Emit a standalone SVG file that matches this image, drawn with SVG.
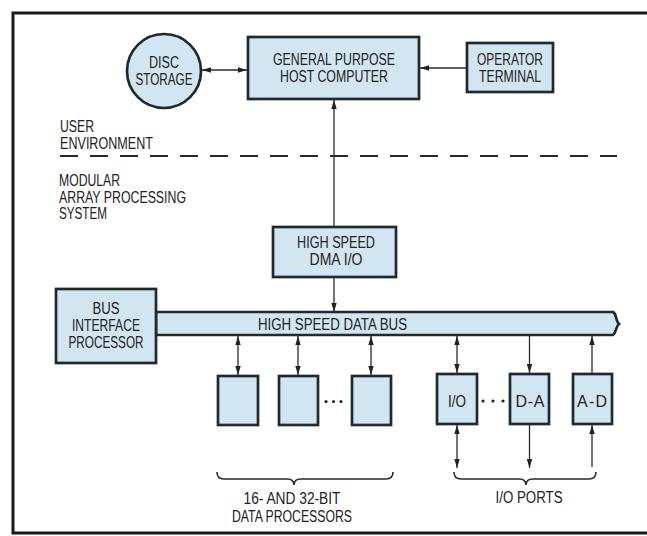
<svg xmlns="http://www.w3.org/2000/svg" width="647" height="536" viewBox="0 0 647 536">
<defs>
<style>
text{font-family:"Liberation Sans Narrow","Liberation Sans",Arial,sans-serif;font-size:16px;fill:#222;}
.c{text-anchor:middle;}
.box{fill:#d2e6f1;stroke:#1e2a2e;stroke-width:2.7;}
.ln{stroke:#2a2a2a;stroke-width:1.3;fill:none;}
.fr{stroke:#1a1a1a;stroke-width:3;fill:none;}
.br{stroke:#2a2a2a;stroke-width:1.6;fill:none;}
</style>
<marker id="ah" viewBox="0 0 10 6" refX="10" refY="3" markerWidth="9" markerHeight="6" markerUnits="userSpaceOnUse" orient="auto-start-reverse">
<path d="M0,0 L10,3 L0,6 z" fill="#222"/>
</marker>
</defs>
<rect width="647" height="536" fill="#fff"/>
<g id="frame">
<path class="fr" d="M647,13 H13 V533 H647"/>
</g>
<g id="labels">
<text x="60" y="132" textLength="34" lengthAdjust="spacingAndGlyphs">USER</text>
<text x="60" y="149" textLength="93" lengthAdjust="spacingAndGlyphs">ENVIRONMENT</text>
<line x1="60" y1="156" x2="617" y2="156" stroke="#2a2a2a" stroke-width="1.8" stroke-dasharray="18 12"/>
<text x="59" y="186" textLength="61" lengthAdjust="spacingAndGlyphs">MODULAR</text>
<text x="59" y="203" textLength="127" lengthAdjust="spacingAndGlyphs">ARRAY PROCESSING</text>
<text x="59" y="219" textLength="48" lengthAdjust="spacingAndGlyphs">SYSTEM</text>
</g>
<g id="connectors">
<line class="ln" x1="202" y1="70" x2="247" y2="70" marker-start="url(#ah)" marker-end="url(#ah)"/>
<line class="ln" x1="467" y1="68" x2="420" y2="68" marker-end="url(#ah)"/>
<line class="ln" x1="334" y1="227" x2="334" y2="100" marker-end="url(#ah)"/>
<line class="ln" x1="334" y1="278" x2="334" y2="312" marker-end="url(#ah)"/>
<line class="ln" x1="238" y1="336" x2="238" y2="375" marker-start="url(#ah)" marker-end="url(#ah)"/>
<line class="ln" x1="298" y1="336" x2="298" y2="375" marker-start="url(#ah)" marker-end="url(#ah)"/>
<line class="ln" x1="371" y1="336" x2="371" y2="375" marker-start="url(#ah)" marker-end="url(#ah)"/>
<line class="ln" x1="457" y1="336" x2="457" y2="373" marker-start="url(#ah)" marker-end="url(#ah)"/>
<line class="ln" x1="457" y1="425" x2="457" y2="468" marker-start="url(#ah)" marker-end="url(#ah)"/>
<line class="ln" x1="529.5" y1="336" x2="529.5" y2="373" marker-end="url(#ah)"/>
<line class="ln" x1="529.5" y1="425" x2="529.5" y2="468" marker-end="url(#ah)"/>
<line class="ln" x1="592" y1="373" x2="592" y2="336" marker-end="url(#ah)"/>
<line class="ln" x1="592" y1="467" x2="592" y2="425" marker-end="url(#ah)"/>
</g>
<g id="disc">
<circle class="box" cx="164" cy="71" r="37"/>
<text class="c" x="164" y="68" textLength="30" lengthAdjust="spacingAndGlyphs">DISC</text>
<text class="c" x="164" y="85" textLength="57" lengthAdjust="spacingAndGlyphs">STORAGE</text>
</g>
<g id="host">
<rect class="box" x="248" y="37" width="171" height="62"/>
<text class="c" x="334" y="65" textLength="122" lengthAdjust="spacingAndGlyphs">GENERAL PURPOSE</text>
<text class="c" x="334" y="82" textLength="108" lengthAdjust="spacingAndGlyphs">HOST COMPUTER</text>
</g>
<g id="terminal">
<rect class="box" x="467" y="43" width="86" height="49"/>
<text class="c" x="510" y="65" textLength="66" lengthAdjust="spacingAndGlyphs">OPERATOR</text>
<text class="c" x="510" y="82" textLength="62" lengthAdjust="spacingAndGlyphs">TERMINAL</text>
</g>
<g id="dma">
<rect class="box" x="273" y="227" width="123" height="50"/>
<text class="c" x="336" y="248" textLength="78" lengthAdjust="spacingAndGlyphs">HIGH SPEED</text>
<text class="c" x="336" y="265" textLength="53" lengthAdjust="spacingAndGlyphs">DMA I/O</text>
</g>
<g id="bus">
<path class="box" stroke-width="2" d="M156,312 H613 C617,314 615,320 619,324 C615,327 617,332 613,335 H156 Z"/>
<text class="c" x="332.5" y="330" textLength="149" lengthAdjust="spacingAndGlyphs">HIGH SPEED DATA BUS</text>
</g>
<g id="bip">
<rect class="box" x="56" y="289" width="100" height="74"/>
<text class="c" x="106" y="314" textLength="27" lengthAdjust="spacingAndGlyphs">BUS</text>
<text class="c" x="106" y="331" textLength="68" lengthAdjust="spacingAndGlyphs">INTERFACE</text>
<text class="c" x="106" y="348" textLength="75" lengthAdjust="spacingAndGlyphs">PROCESSOR</text>
</g>
<g id="dp1"><rect class="box" x="218" y="376" width="40" height="49"/></g>
<g id="dp2"><rect class="box" x="279" y="376" width="39" height="49"/></g>
<g id="dp3"><rect class="box" x="352" y="376" width="39" height="49"/></g>
<g id="dots1" fill="#222"><circle cx="326" cy="401.5" r="1.6"/><circle cx="333.5" cy="401.5" r="1.6"/><circle cx="341" cy="401.5" r="1.6"/></g>
<g id="io">
<rect class="box" x="437" y="374" width="40" height="50"/>
<text class="c" x="457" y="407" textLength="18" lengthAdjust="spacingAndGlyphs">I/O</text>
</g>
<g id="dots2" fill="#222"><circle cx="483" cy="401" r="1.6"/><circle cx="493" cy="401" r="1.6"/><circle cx="503" cy="401" r="1.6"/></g>
<g id="da">
<rect class="box" x="510" y="374" width="39" height="50"/>
<text class="c" x="530" y="407" textLength="29" lengthAdjust="spacing">D-A</text>
</g>
<g id="ad">
<rect class="box" x="573" y="374" width="39" height="50"/>
<text class="c" x="592" y="407" textLength="30" lengthAdjust="spacing">A-D</text>
</g>
<g id="dp-label">
<path class="br" d="M217,472 Q217,479 224,479 H287 Q294,479 294,485 Q294,479 301,479 H386 Q393,479 393,472"/>
<text class="c" x="292" y="504" textLength="97" lengthAdjust="spacingAndGlyphs">16- AND 32-BIT</text>
<text class="c" x="292" y="522" textLength="120" lengthAdjust="spacingAndGlyphs">DATA PROCESSORS</text>
</g>
<g id="io-label">
<path class="br" d="M454,472 Q454,479 461,479 H519 Q526,479 526,485 Q526,479 533,479 H589 Q596,479 596,472"/>
<text class="c" x="529" y="503" textLength="67" lengthAdjust="spacingAndGlyphs">I/O PORTS</text>
</g>
</svg>
